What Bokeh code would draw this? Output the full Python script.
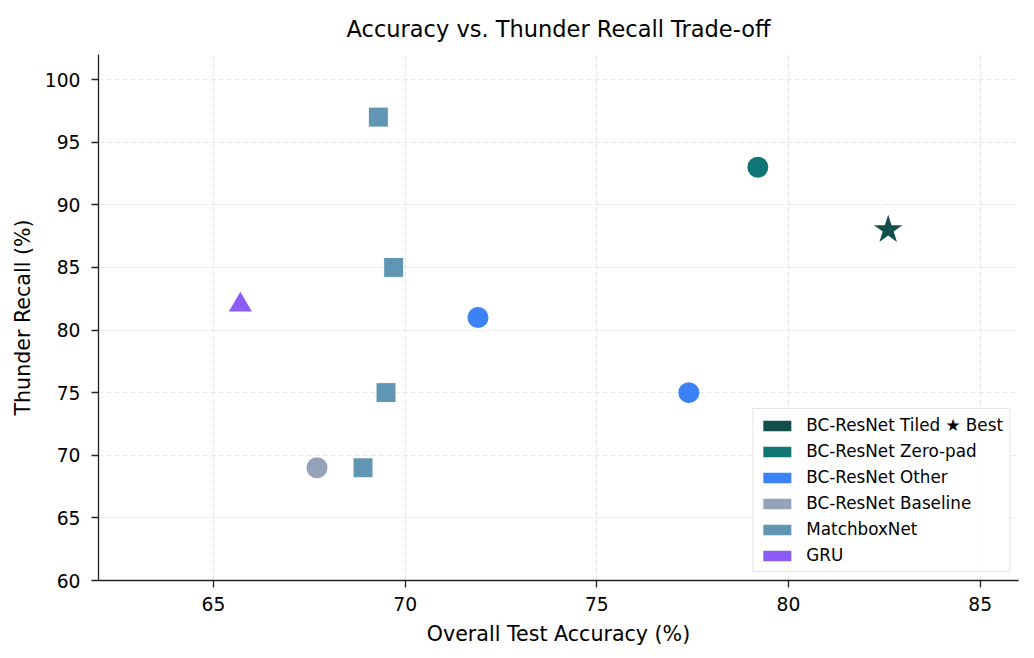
from bokeh.plotting import figure
from bokeh.models import Range1d, SingleIntervalTicker, Legend, LegendItem
from bokeh.embed import file_html
from bokeh.resources import INLINE

# Data
tiled_x = [82.6]
tiled_y = [88]
zeropad_x = [79.2]
zeropad_y = [93]
other_x = [71.9, 77.4]
other_y = [81, 75]
baseline_x = [67.7]
baseline_y = [69]
matchbox_x = [69.3, 69.7, 69.5, 68.9]
matchbox_y = [97, 85, 75, 69]
gru_x = [65.7]
gru_y = [82]

legend_names = ["BC-ResNet Tiled \u2605 Best", "BC-ResNet Zero-pad", "BC-ResNet Other",
                "BC-ResNet Baseline", "MatchboxNet", "GRU"]
legend_colors = ["#134e4a", "#0f7673", "#3b82f6", "#94a3b8", "#6096b4", "#8b5cf6"]

FONT = "DejaVu Sans"

p = figure(width=1026, height=650, output_backend="svg", toolbar_location=None,
           x_range=Range1d(62, 86), y_range=Range1d(60, 102),
           min_border_left=98, min_border_right=8, min_border_top=53, min_border_bottom=70,
           title="Accuracy vs. Thunder Recall Trade-off")

# Title
p.title.text_font = FONT
p.title.text_font_size = "22.5px"
p.title.text_font_style = "normal"
p.title.align = "center"
p.title.text_color = "#000000"
p.title.standoff = 26

p.outline_line_color = None
p.background_fill_color = "white"

# Axes
for ax in (p.xaxis, p.yaxis):
    ax.ticker = SingleIntervalTicker(interval=5)
    ax.axis_line_color = "#222222"
    ax.axis_line_width = 1.3
    ax.major_tick_line_color = "#222222"
    ax.major_tick_line_width = 1.3
    ax.major_tick_in = 0
    ax.major_tick_out = 7
    ax.minor_tick_line_color = None
    ax.major_label_text_font = FONT
    ax.major_label_text_font_size = "18.7px"
    ax.major_label_text_color = "#000000"
    ax.axis_label_text_font = FONT
    ax.axis_label_text_font_size = "20.6px"
    ax.axis_label_text_font_style = "normal"
    ax.axis_label_text_color = "#000000"

p.xaxis.axis_label = "Overall Test Accuracy (%)"
p.yaxis.axis_label = "Thunder Recall (%)"
p.xaxis.major_label_standoff = 9
p.yaxis.major_label_standoff = 11
p.xaxis.axis_label_standoff = 8
p.yaxis.axis_label_standoff = 7

# Grid
for g in (p.xgrid, p.ygrid):
    g.grid_line_color = "#b0b0b0"
    g.grid_line_alpha = 0.3
    g.grid_line_dash = "5 3"
    g.grid_line_width = 1

# Markers
p.scatter(matchbox_x, matchbox_y, marker="square", size=20,
          fill_color=legend_colors[4], line_color="white", line_width=1)
p.scatter(baseline_x, baseline_y, marker="circle", size=21,
          fill_color=legend_colors[3], line_color=None)
p.scatter(other_x, other_y, marker="circle", size=21,
          fill_color=legend_colors[2], line_color=None)
p.scatter(zeropad_x, zeropad_y, marker="circle", size=21,
          fill_color=legend_colors[1], line_color=None)
p.scatter(gru_x, gru_y, marker="triangle", size=23,
          fill_color=legend_colors[5], line_color=None)
p.scatter(tiled_x, tiled_y, marker="star", size=30,
          fill_color=legend_colors[0], line_color=None)

# Legend with colour patches (the quads hold one NaN row, so nothing is drawn in the plot)
nan = float("nan")
items = []
for name, color in zip(legend_names, legend_colors):
    r = p.quad(left=[nan], right=[nan], top=[nan], bottom=[nan],
               fill_color=color, line_color=None)
    items.append(LegendItem(label=name, renderers=[r]))

legend = Legend(items=items, location="bottom_right")
legend.margin = 8
legend.padding = 6
legend.spacing = 6
legend.glyph_width = 35
legend.glyph_height = 13
legend.label_height = 20
legend.label_standoff = 12
legend.label_text_font = FONT
legend.label_text_font_size = "16.8px"
legend.label_text_color = "#000000"
legend.border_line_color = "#cccccc"
legend.border_line_width = 1
legend.background_fill_color = "white"
legend.background_fill_alpha = 0.85
p.add_layout(legend)

open("out.html", "w").write(file_html(p, INLINE))
